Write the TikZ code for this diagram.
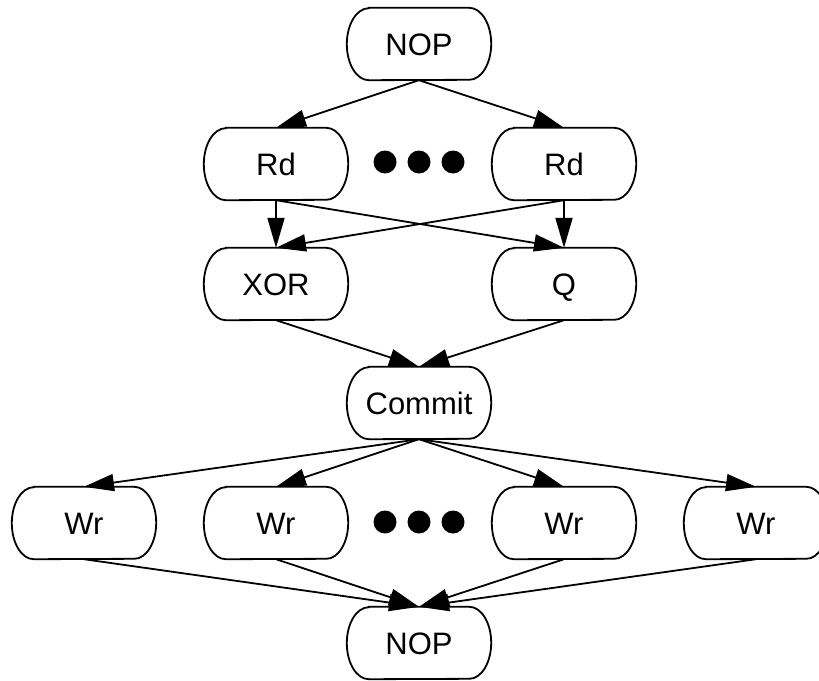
\documentclass[tikz,border=0pt]{standalone}
\usepackage{fontspec}
\setmainfont{Liberation Sans}
\usetikzlibrary{arrows.meta}
\tikzset{
  gnode/.style={draw=none, minimum width=144pt, minimum height=72pt, inner sep=0pt,
    font=\fontsize{31}{31}\selectfont, text height=22.3pt, text depth=0pt},
  dot/.style={circle, fill=black, draw=none, minimum size=23pt, inner sep=0pt},
  arr/.style={line width=1.8pt, -{Triangle[length=30pt, width=17pt]}},
  outline/.style={line width=1.8pt}
}
\newcommand\rboxoutline[1]{%
  \draw[outline] ([xshift=22pt]#1.north west) -- ([xshift=-22pt]#1.north east)
    arc[start angle=90, end angle=-90, x radius=22pt, y radius=36pt]
    -- ([xshift=22pt]#1.south west)
    arc[start angle=270, end angle=90, x radius=22pt, y radius=36pt] -- cycle;}
\begin{document}
\begin{tikzpicture}[x=1pt, y=-1pt]
\useasboundingbox (0,0) rectangle (819,680);
\clip (0,0) rectangle (819,680);
\node[gnode] (nop1) at (419,44) {NOP};
\node[gnode] (rd1) at (276,164) {Rd};
\node[gnode] (rd2) at (564,164) {Rd};
\node[dot] (d1) at (385,162) {};
\node[dot] (d2) at (419,162) {};
\node[dot] (d3) at (453,162) {};
\node[gnode] (xor) at (276,284) {XOR};
\node[gnode] (q) at (564,284) {Q};
\node[gnode] (commit) at (419,403) {Commit};
\node[gnode] (wr1) at (84,523) {Wr};
\node[gnode] (wr2) at (276,523) {Wr};
\node[gnode] (wr3) at (564,523) {Wr};
\node[gnode] (wr4) at (756,523) {Wr};
\node[dot] (d4) at (385,522) {};
\node[dot] (d5) at (419,522) {};
\node[dot] (d6) at (453,522) {};
\node[gnode] (nop2) at (419,643) {NOP};
\foreach \n in {nop1,rd1,rd2,xor,q,commit,wr1,wr2,wr3,wr4,nop2} {\rboxoutline{\n}}
\draw[arr] (nop1.south) -- (rd1.north);
\draw[arr] (nop1.south) -- (rd2.north);
\draw[arr] (rd1.south) -- (xor.north);
\draw[arr] (rd1.south) -- (q.north);
\draw[arr] (rd2.south) -- (q.north);
\draw[arr] (rd2.south) -- (xor.north);
\draw[arr] (xor.south) -- (commit.north);
\draw[arr] (q.south) -- (commit.north);
\draw[arr] (commit.south) -- (wr1.north);
\draw[arr] (commit.south) -- (wr2.north);
\draw[arr] (commit.south) -- (wr3.north);
\draw[arr] (commit.south) -- (wr4.north);
\draw[arr] (wr1.south) -- (nop2.north);
\draw[arr] (wr2.south) -- (nop2.north);
\draw[arr] (wr3.south) -- (nop2.north);
\draw[arr] (wr4.south) -- (nop2.north);
\end{tikzpicture}
\end{document}
